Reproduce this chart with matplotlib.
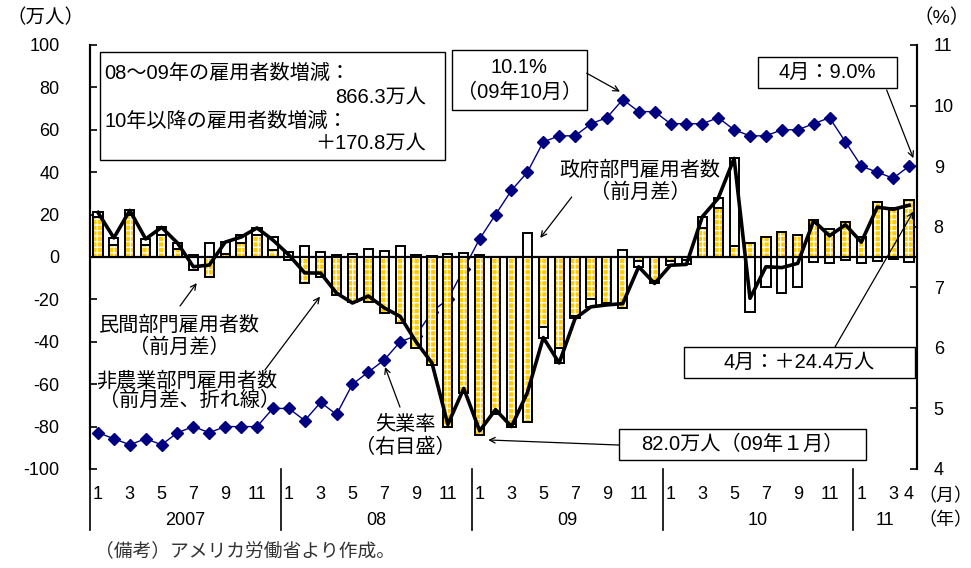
import matplotlib
matplotlib.use("Agg")
import matplotlib.pyplot as plt
from matplotlib.patches import Rectangle
import numpy as np

# -------------------------------
# Fonts / style
# -------------------------------
plt.rcParams["font.family"] = ["Liberation Sans", "Noto Sans CJK JP"]
plt.rcParams["axes.unicode_minus"] = False
plt.rcParams["hatch.linewidth"] = 0.9

PRIVATE_COLOR = "#FFCC00"
RATE_COLOR = "#000080"
EDGE = "black"

# -------------------------------
# Data (Jan 2007 - Apr 2011), 万人 / %
# -------------------------------
years = ["2007", "08", "09", "10", "11"]
month_labels = (["1", "", "3", "", "5", "", "7", "", "9", "", "11", ""] * 4
                + ["1", "", "3", "4"])

private = [
    19, 5.7, 20, 5.7, 10.4, 4, 1, -9.3, 1.5, 6.5, 10.4, 3.3,
    -1.5, -12.5, -9.3, -18, -21, -21, -26.5, -31, -43, -51, -80, -64,
    -84, -73, -79, -77.7, -33, -43, -28, -20, -21.7, -24, -2, -11.5,
    -2, -1.5, 13.6, 23, 5, 6.4, 9.6, 12, 10.4, 17.5, 13, 16.5,
    9.4, 26, 23, 26.8,
]
government = [
    2, 3.3, 2, 3, 3.8, 2.6, -6, 6.4, 5.5, 3.9, 3.2, 6.3,
    2.5, 5, 2.4, 1, 1.5, 3.6, 3, 5, 1, 0.5, 1.5, 2,
    1, -1, -1, 11.5, -5, -7, -1, -3.5, -1, 3.5, -2.6, -1,
    -2, -2, 5.4, 5, 41.5, -25.8, -14, -17, -14, -2.5, -3, -1.5,
    -2.6, -2, -1, -2.4,
]
nonfarm = [
    21, 9, 22, 8.5, 14, 6.6, -4.6, -3.8, 7, 9.4, 13.7, 8,
    1, -7.5, -7.6, -17, -21.7, -18.4, -24, -28, -40, -50, -79, -62,
    -82.0, -72, -80, -64, -38, -50, -29, -23.5, -22.6, -22, -4.6, -12.5,
    -3.9, -3.5, 19, 27.7, 46.5, -19.5, -4.6, -5, -3, 17.1, 10, 15.2,
    7, 23.5, 22.5, 24.4,
]
unemployment = [
    4.6, 4.5, 4.4, 4.5, 4.4, 4.6, 4.7, 4.6, 4.7, 4.7, 4.7, 5.0,
    5.0, 4.8, 5.1, 4.9, 5.4, 5.6, 5.8, 6.1, 6.2, 6.6, 6.8, 7.3,
    7.8, 8.2, 8.6, 8.9, 9.4, 9.5, 9.5, 9.7, 9.8, 10.1, 9.9, 9.9,
    9.7, 9.7, 9.7, 9.8, 9.6, 9.5, 9.5, 9.6, 9.6, 9.7, 9.8, 9.4,
    9.0, 8.9, 8.8, 9.0,
]

x = np.arange(len(private))
private_arr = np.array(private, dtype=float)
gov_arr = np.array(government, dtype=float)
# stack government on private only when signs agree (positives up, negatives down)
gov_bottom = np.where(np.sign(gov_arr) == np.sign(private_arr), private_arr, 0.0)

# -------------------------------
# Figure
# -------------------------------
fig = plt.figure(figsize=(9.71, 5.68), dpi=100)
ax = fig.add_axes([0.0927, 0.1743, 0.8517, 0.7465])
ax2 = ax.twinx()

W = 0.58
ax.bar(x, private_arr, width=W, color=PRIVATE_COLOR, edgecolor="white",
       hatch="+++", linewidth=0, zorder=2)
ax.bar(x, private_arr, width=W, fill=False, edgecolor=EDGE, linewidth=1.4, zorder=3)
ax.bar(x, gov_arr, width=W, bottom=gov_bottom, facecolor="white",
       edgecolor=EDGE, linewidth=1.4, zorder=3)
ax.axhline(0, color=EDGE, linewidth=1.6, zorder=4)
ax.plot(x, nonfarm, color=EDGE, linewidth=2.6, zorder=5)

ax2.plot(x, unemployment, color=RATE_COLOR, linewidth=1.0, marker="D",
         markersize=6.5, zorder=6)

# -------------------------------
# Axes
# -------------------------------
ax.set_xlim(-0.5, len(x) - 0.5)
ax.set_ylim(-100, 100)
ax.set_yticks(range(-100, 101, 20))
ax2.set_ylim(4, 11)
ax2.set_yticks(range(4, 12))

for a in (ax, ax2):
    a.spines["top"].set_visible(False)
    a.spines["bottom"].set_visible(False)
    a.spines["left"].set_linewidth(1.5)
    a.spines["right"].set_linewidth(1.5)

ax.tick_params(axis="y", direction="in", length=5, width=1.2, labelsize=13, pad=22)
ax2.tick_params(axis="y", direction="in", length=5, width=1.2, labelsize=13, pad=12)

ax.set_xticks(x)
ax.set_xticklabels(month_labels, fontsize=13)
ax.tick_params(axis="x", length=0, pad=12)

# year row and separators
xt = ax.get_xaxis_transform()
for b in [-0.5, 11.5, 23.5, 35.5, 47.5]:
    ax.plot([b, b], [0, -0.145], color=EDGE, linewidth=1.2, transform=xt, clip_on=False)
year_centers = [5.5, 17.5, 29.5, 41.5, 49.5]
for yc, lab in zip(year_centers, years):
    ax.text(yc, -0.1226, lab, transform=xt, ha="center", va="center", fontsize=13)

fig.text(45 / 971, 1 - 18 / 568, "（万人）", ha="center", va="center", fontsize=14)
fig.text(942 / 971, 1 - 18 / 568, "（%）", ha="center", va="center", fontsize=14)
fig.text(945 / 971, 1 - 497 / 568, "（月）", ha="center", va="center", fontsize=13)
fig.text(945 / 971, 1 - 521 / 568, "（年）", ha="center", va="center", fontsize=13)
fig.text(95 / 971, 1 - 551 / 568, "（備考）アメリカ労働省より作成。", ha="left",
         va="center", fontsize=13.5, color="#333333")

# -------------------------------
# Annotations
# -------------------------------
TXT = 14.5
arrow = dict(arrowstyle="->", color=EDGE, linewidth=0.9, shrinkA=0, shrinkB=0)


def box(x0, y0, x1, y1):
    ax.add_patch(Rectangle((x0, y0), x1 - x0, y1 - y0, facecolor="white",
                           edgecolor=EDGE, linewidth=1.0, zorder=7))


box(0.13, 45.8, 21.8, 96.7)
ax.text(0.38, 86.8, "08～09年の雇用者数増減：", fontsize=TXT, va="center", zorder=8)
ax.text(20.6, 75.5, "866.3万人", fontsize=TXT, va="center", ha="right", zorder=8)
ax.text(0.38, 64.2, "10年以降の雇用者数増減：", fontsize=TXT, va="center", zorder=8)
ax.text(20.6, 53.8, "＋170.8万人", fontsize=TXT, va="center", ha="right", zorder=8)

box(22.26, 69.3, 30.75, 97.6)
ax.text(26.5, 89.2, "10.1%", fontsize=TXT, ha="center", va="center", zorder=8)
ax.text(26.5, 77.8, "（09年10月）", fontsize=TXT, ha="center", va="center", zorder=8)
ax.annotate("", xy=(32.82, 78.0), xytext=(30.73, 86.7), arrowprops=arrow, zorder=8)

box(41.5, 79.7, 50.24, 94.3)
ax.text(45.87, 87.0, "4月：9.0%", fontsize=TXT, ha="center", va="center", zorder=8)
ax.annotate("", xy=(51.27, 46.6), xytext=(49.59, 78.8), arrowprops=arrow, zorder=8)

box(36.85, -57.1, 51.37, -42.5)
ax.text(44.11, -49.8, "4月：＋24.4万人", fontsize=TXT, ha="center", va="center", zorder=8)
ax.annotate("", xy=(51.27, 21.4), xytext=(46.34, -42.5), arrowprops=arrow, zorder=8)

box(32.76, -95.75, 48.29, -81.1)
ax.text(40.53, -88.4, "82.0万人（09年１月）", fontsize=TXT, ha="center", va="center", zorder=8)
ax.annotate("", xy=(24.54, -86.3), xytext=(32.76, -88.7), arrowprops=arrow, zorder=8)

ax.text(34.08, 41.0, "政府部門雇用者数", fontsize=TXT, ha="center", va="center", zorder=8)
ax.text(34.08, 30.7, "（前月差）", fontsize=TXT, ha="center", va="center", zorder=8)
ax.annotate("", xy=(27.81, 9.0), xytext=(29.79, 28.3), arrowprops=arrow, zorder=8)

ax.text(5.13, -32.1, "民間部門雇用者数", fontsize=TXT, ha="center", va="center", zorder=8)
ax.text(5.13, -42.5, "（前月差）", fontsize=TXT, ha="center", va="center", zorder=8)
ax.annotate("", xy=(6.21, -12.3), xytext=(5.16, -23.1), arrowprops=arrow, zorder=8)

ax.text(5.57, -58.5, "非農業部門雇用者数", fontsize=TXT, ha="center", va="center", zorder=8)
ax.text(5.76, -67.5, "（前月差、折れ線）", fontsize=TXT, ha="center", va="center", zorder=8)
ax.annotate("", xy=(13.96, -18.7), xytext=(10.5, -53.3), arrowprops=arrow, zorder=8)

ax.text(19.31, -79.2, "失業率", fontsize=TXT, ha="center", va="center", zorder=8)
ax.text(19.31, -89.6, "（右目盛）", fontsize=TXT, ha="center", va="center", zorder=8)
ax.annotate("", xy=(18.05, -51.9), xytext=(18.99, -70.8), arrowprops=arrow, zorder=8)

# annotations live on the left axes but must sit above the rate line
ax.set_zorder(ax2.get_zorder() + 1)
ax.patch.set_visible(False)

fig.savefig("out.png", dpi=100)
